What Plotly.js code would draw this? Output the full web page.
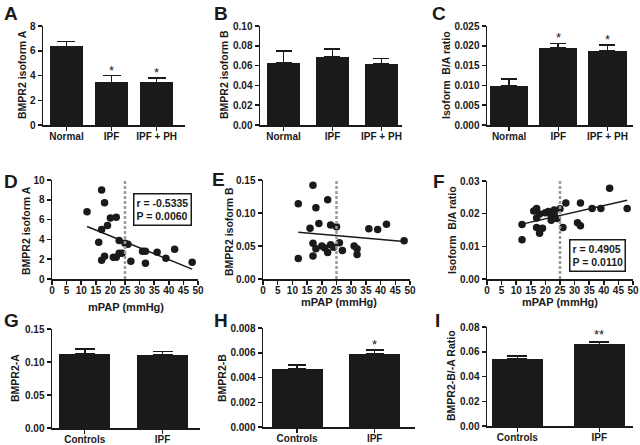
<!DOCTYPE html>
<html>
<head>
<meta charset="utf-8">
<script src="https://cdn.plot.ly/plotly-3.0.1.min.js"></script>
<style>
body { margin: 0; background: #fff; }
#fig { width: 640px; height: 445px; }
</style>
</head>
<body>
<div id="fig"></div>
<script>
// top row: tissue qPCR
var groups3 = ["Normal", "IPF", "IPF + PH"];
var isoA = [6.35, 3.45, 3.45];
var isoAErr = [0.4, 0.55, 0.35];
var isoB = [0.063, 0.069, 0.062];
var isoBErr = [0.012, 0.008, 0.005];
var ratioBA = [0.0099, 0.0195, 0.0188];
var ratioBAErr = [0.0017, 0.0011, 0.0014];
var sigA = ["", "*", "*"];
var sigC = ["", "*", "*"];

// middle row: correlation with mPAP
var mpapD = [12, 17, 18, 20, 22, 19, 17, 16, 23, 25, 26, 17, 18, 21, 22, 23, 24, 27, 31, 32, 32, 36, 39, 42, 48];
var isoAD = [6.8, 9.0, 7.7, 6.15, 6.25, 5.4, 5.0, 3.7, 3.9, 3.6, 3.5, 1.9, 2.3, 2.2, 2.2, 2.6, 2.6, 1.8, 2.8, 2.8, 1.6, 2.7, 2.1, 3.0, 1.7];
var mpapE = [12, 12, 17, 18, 19, 16, 22, 23, 25, 17, 18, 20, 21, 22, 23, 24, 17, 26, 27, 31, 32, 32, 36, 39, 42, 48];
var isoBE = [0.031, 0.114, 0.142, 0.108, 0.084, 0.077, 0.120, 0.082, 0.079, 0.054, 0.046, 0.050, 0.047, 0.040, 0.052, 0.048, 0.035, 0.055, 0.043, 0.050, 0.046, 0.037, 0.076, 0.075, 0.083, 0.058];
var mpapF = [12, 12, 16, 17, 17, 17, 18, 18, 19, 20, 21, 22, 22, 23, 23, 24, 25, 26, 27, 31, 32, 32, 36, 39, 42, 48];
var ratioF = [0.012, 0.0167, 0.0208, 0.0216, 0.0187, 0.0158, 0.0199, 0.014, 0.0155, 0.0203, 0.0207, 0.018, 0.0193, 0.0211, 0.0201, 0.0185, 0.0215, 0.0158, 0.0233, 0.0172, 0.0163, 0.0233, 0.0216, 0.0216, 0.0278, 0.0216];
var fitX = [12, 48];
var fitD = [5.3, 1.0];
var fitE = [0.071, 0.057];
var fitF = [0.0168, 0.0241];
var mpapCut = 25;
var statD = "r = -0.5335<br>P = 0.0060";
var statF = "r = 0.4905<br>P = 0.0110";

// bottom row: second cohort
var groups2 = ["Controls", "IPF"];
var bmprA = [0.112, 0.111];
var bmprAErr = [0.008, 0.005];
var bmprB = [0.0047, 0.0059];
var bmprBErr = [0.0003, 0.0003];
var bmprRatio = [0.054, 0.066];
var bmprRatioErr = [0.0025, 0.002];
var sigH = ["", "*"];
var sigI = ["", "**"];

var W = 640, H = 445;
var ink = "#1a1a1a";
var fam = "Liberation Sans, Arial, sans-serif";

function xd(a, b) { return [a / W, b / W]; }
function yd(top, bot) { return [1 - bot / H, 1 - top / H]; }

function axis(dom, extra) {
    var a = {
        domain: dom,
        showline: true, linecolor: ink, linewidth: 1.5,
        ticks: "outside", ticklen: 4, tickwidth: 1.5, tickcolor: ink,
        showgrid: false, zeroline: false, fixedrange: true,
        tickfont: {family: fam, size: 10, color: ink, weight: "bold"}
    };
    for (var k in extra) a[k] = extra[k];
    return a;
}

function bars(x, y, err, w, cap, xa, ya) {
    return {
        type: "bar", x: x, y: y, width: w, xaxis: xa, yaxis: ya,
        marker: {color: ink, line: {width: 0}},
        error_y: {type: "data", array: err, symmetric: false,
                  arrayminus: err.map(function () { return 0; }),
                  color: ink, thickness: 1.6, width: cap},
        hoverinfo: "skip"
    };
}
function dots(x, y, xa, ya) {
    return {type: "scatter", mode: "markers", x: x, y: y, xaxis: xa, yaxis: ya,
            marker: {size: 7.5, color: ink}, hoverinfo: "skip"};
}
function fit(y, xa, ya) {
    return {type: "scatter", mode: "lines", x: fitX, y: y, xaxis: xa, yaxis: ya,
            line: {color: ink, width: 1.5}, hoverinfo: "skip"};
}
function cut(top, xa, ya) {
    return {type: "scatter", mode: "lines", x: [mpapCut, mpapCut], y: [0, top], xaxis: xa, yaxis: ya,
            line: {color: "#9a9a9a", width: 2.5, dash: "3px,2px"}, hoverinfo: "skip"};
}

var data = [
    bars(groups3, isoA, isoAErr, 0.73, 9, "x", "y"),
    bars(groups3, isoB, isoBErr, 0.67, 8, "x2", "y2"),
    bars(groups3, ratioBA, ratioBAErr, 0.78, 8, "x3", "y3"),
    dots(mpapD, isoAD, "x4", "y4"), fit(fitD, "x4", "y4"), cut(10, "x4", "y4"),
    dots(mpapE, isoBE, "x5", "y5"), fit(fitE, "x5", "y5"), cut(0.15, "x5", "y5"),
    dots(mpapF, ratioF, "x6", "y6"), fit(fitF, "x6", "y6"), cut(0.03, "x6", "y6"),
    bars(groups2, bmprA, bmprAErr, 0.65, 10, "x7", "y7"),
    bars(groups2, bmprB, bmprBErr, 0.66, 9, "x8", "y8"),
    bars(groups2, bmprRatio, bmprRatioErr, 0.62, 10, "x9", "y9")
];

var ann = [];
function label(t, x, y, size, angle) {
    ann.push({text: t, xref: "paper", yref: "paper", x: x / W, y: 1 - y / H,
              xanchor: "center", yanchor: "middle", showarrow: false, textangle: angle || 0,
              font: {family: fam, size: size, color: ink, weight: "bold"}});
}
// panel letters
[["A", 11, 13], ["B", 221, 13], ["C", 439, 13],
 ["D", 11, 181], ["E", 218, 179], ["F", 439, 181],
 ["G", 11, 320], ["H", 221, 320], ["I", 437, 320]].forEach(function (l) {
    label(l[0], l[1], l[2], 19);
});
// y axis titles
[["BMPR2 isoform A", 22, 75], ["BMPR2 isoform B", 224, 75], ["Isoform  B/A ratio", 446, 75],
 ["BMPR2 isoform A", 26, 231], ["BMPR2 isoform B", 229, 232], ["Isoform  B/A ratio", 452, 230],
 ["BMPR2-A", 15, 378], ["BMPR2-B", 222, 378], ["BMPR2-B/-A Ratio", 451, 376]].forEach(function (l) {
    label(l[0], l[1], l[2], 10.5, -90);
});
// x axis titles
[["mPAP (mmHg)", 126, 307], ["mPAP (mmHg)", 339, 302], ["mPAP (mmHg)", 560, 302]].forEach(function (l) {
    label(l[0], l[1], l[2], 11);
});

function addStars(sig, vals, errs, cats, xa, ya, shift) {
    sig.forEach(function (s, i) {
        if (!s) return;
        ann.push({text: s, x: cats[i], y: vals[i] + errs[i], xref: xa, yref: ya,
                  xanchor: "center", yanchor: "bottom", yshift: shift, showarrow: false,
                  font: {family: fam, size: 13, color: ink}});
    });
}
addStars(sigA, isoA, isoAErr, groups3, "x", "y", -4);
addStars(sigC, ratioBA, ratioBAErr, groups3, "x3", "y3", -4);
addStars(sigH, bmprB, bmprBErr, groups2, "x8", "y8", -4);
addStars(sigI, bmprRatio, bmprRatioErr, groups2, "x9", "y9", -2);
function statBox(t, xa, ya, x, y) {
    ann.push({text: t, xref: xa, yref: ya, x: x, y: y, showarrow: false,
              xanchor: "center", yanchor: "middle", align: "left",
              bordercolor: ink, borderwidth: 1.5, borderpad: 2, bgcolor: "#fff",
              font: {family: fam, size: 10.5, color: ink, weight: "bold"}});
}
statBox(statD, "x4", "y4", 37.7, 7.0);
statBox(statF, "x6", "y6", 37.7, 0.0073);

var xb = {ticklabelstandoff: -3};
function ext(a, b) { for (var k in b) a[k] = b[k]; return a; }

var layout = {
    width: W, height: H,
    margin: {l: 0, r: 0, t: 0, b: 0},
    paper_bgcolor: "#fff", plot_bgcolor: "#fff",
    showlegend: false, bargap: 0,
    font: {family: fam, color: ink},

    xaxis: axis(xd(43, 185), ext({anchor: "y", range: [-0.52, 2.63], type: "category"}, xb)),
    yaxis: axis(yd(26, 125), {anchor: "x", range: [0, 8], dtick: 2}),
    xaxis2: axis(xd(260, 402), ext({anchor: "y2", range: [-0.48, 2.42], type: "category"}, xb)),
    yaxis2: axis(yd(26, 125), {anchor: "x2", range: [0, 0.1], dtick: 0.02, tickformat: ".2f"}),
    xaxis3: axis(xd(487, 633), ext({anchor: "y3", range: [-0.45, 2.52], type: "category"}, xb)),
    yaxis3: axis(yd(26, 125), {anchor: "x3", range: [0, 0.025], dtick: 0.005, tickformat: ".3f"}),

    xaxis4: axis(xd(52, 198), ext({anchor: "y4", range: [0, 50], dtick: 5}, xb)),
    yaxis4: axis(yd(180, 279), {anchor: "x4", range: [0, 10], dtick: 2}),
    xaxis5: axis(xd(263, 410), ext({anchor: "y5", range: [0, 50], dtick: 5}, xb)),
    yaxis5: axis(yd(180, 279), {anchor: "x5", range: [0, 0.15], dtick: 0.05, tickformat: ".2f"}),
    xaxis6: axis(xd(487, 633), ext({anchor: "y6", range: [0, 50], dtick: 5}, xb)),
    yaxis6: axis(yd(181, 279), {anchor: "x6", range: [0, 0.03], dtick: 0.01, tickformat: ".2f"}),

    xaxis7: axis(xd(52, 200), ext({anchor: "y7", range: [-0.42, 1.48], type: "category"}, xb)),
    yaxis7: axis(yd(329, 428), {anchor: "x7", range: [0, 0.15], dtick: 0.05, tickformat: ".2f"}),
    xaxis8: axis(xd(263, 415), ext({anchor: "y8", range: [-0.44, 1.52], type: "category"}, xb)),
    yaxis8: axis(yd(328, 427), {anchor: "x8", range: [0, 0.008], dtick: 0.002, tickformat: ".3f"}),
    xaxis9: axis(xd(487, 633), ext({anchor: "y9", range: [-0.37, 1.41], type: "category"}, xb)),
    yaxis9: axis(yd(327, 426), {anchor: "x9", range: [0, 0.08], dtick: 0.02, tickformat: ".2f"}),

    annotations: ann
};

Plotly.newPlot("fig", data, layout, {displayModeBar: false, staticPlot: true});
</script>
</body>
</html>
